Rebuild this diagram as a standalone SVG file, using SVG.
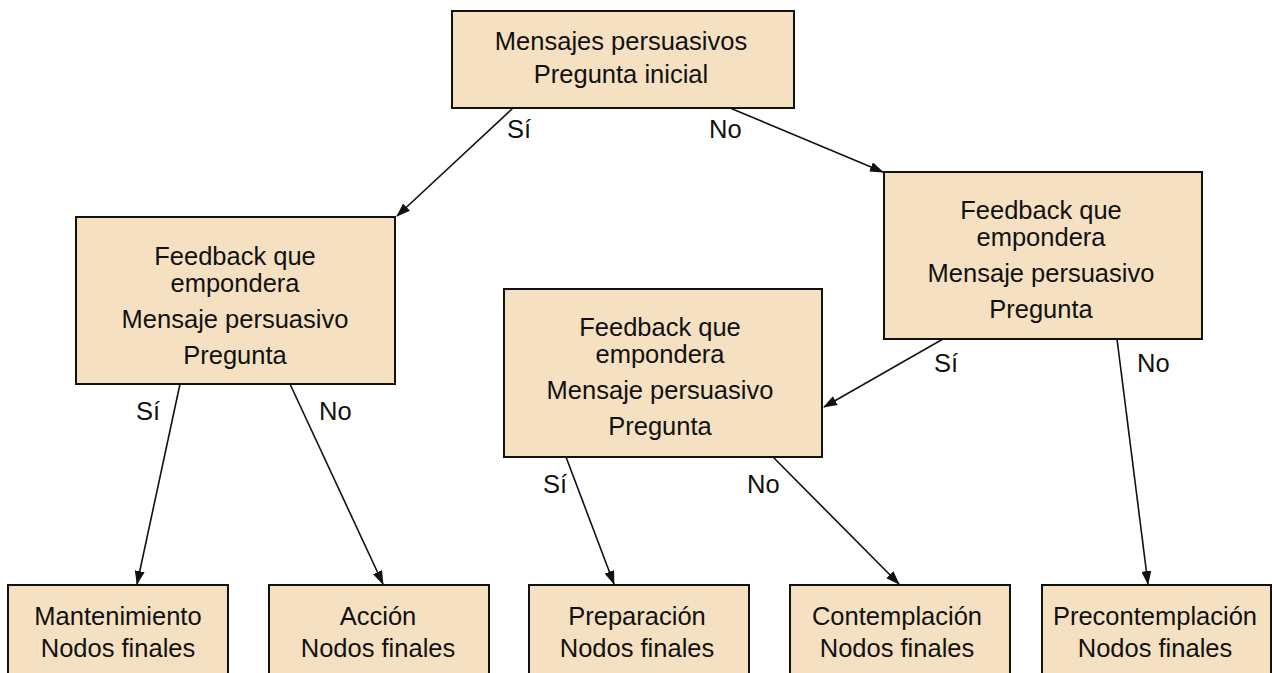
<svg xmlns="http://www.w3.org/2000/svg" width="1272" height="673" viewBox="0 0 1272 673">
<style>
.box{fill:#F5E1C1;stroke:#111;stroke-width:2}
text{font-family:"Liberation Sans",Arial,sans-serif;font-size:25.5px;fill:#111;text-anchor:middle}
.lbl{text-anchor:start}
.c{stroke:#111;stroke-width:1.6;fill:none;marker-end:url(#ah)}
</style>
<defs>
<marker id="ah" viewBox="0 0 14 10" refX="13" refY="5" markerWidth="14" markerHeight="10" markerUnits="userSpaceOnUse" orient="auto">
<path d="M0,0 L14,5 L0,10 z" fill="#111"/>
</marker>
</defs>
<rect width="1272" height="673" fill="#fff"/>
<g id="connectors">
<line class="c" x1="513" y1="108" x2="397" y2="216"/>
<line class="c" x1="730" y1="108" x2="883" y2="172"/>
<line class="c" x1="180" y1="384" x2="137" y2="584"/>
<line class="c" x1="290" y1="384" x2="383" y2="584"/>
<line class="c" x1="943" y1="339" x2="824" y2="407"/>
<line class="c" x1="1117" y1="339" x2="1148" y2="584"/>
<line class="c" x1="566" y1="457" x2="614" y2="584"/>
<line class="c" x1="773" y1="457" x2="899" y2="584"/>
<text class="lbl" x="507" y="138">Sí</text>
<text class="lbl" x="709" y="138">No</text>
<text class="lbl" x="136" y="420">Sí</text>
<text class="lbl" x="319" y="420">No</text>
<text class="lbl" x="543" y="493">Sí</text>
<text class="lbl" x="747" y="493">No</text>
<text class="lbl" x="934" y="372">Sí</text>
<text class="lbl" x="1137" y="372">No</text>
</g>
<g id="root">
<rect class="box" x="452" y="11" width="342" height="97"/>
<text x="621" y="50">Mensajes persuasivos</text>
<text x="621" y="83">Pregunta inicial</text>
</g>
<g id="left">
<rect class="box" x="76" y="217" width="319" height="167"/>
<text x="235" y="265">Feedback que</text>
<text x="235" y="292">empondera</text>
<text x="235" y="328">Mensaje persuasivo</text>
<text x="235" y="364">Pregunta</text>
</g>
<g id="middle">
<rect class="box" x="504" y="289" width="318" height="168"/>
<text x="660" y="336">Feedback que</text>
<text x="660" y="363">empondera</text>
<text x="660" y="399">Mensaje persuasivo</text>
<text x="660" y="435">Pregunta</text>
</g>
<g id="right">
<rect class="box" x="884" y="172" width="318" height="167"/>
<text x="1041" y="219">Feedback que</text>
<text x="1041" y="246">empondera</text>
<text x="1041" y="282">Mensaje persuasivo</text>
<text x="1041" y="318">Pregunta</text>
</g>
<g id="mantenimiento">
<rect class="box" x="8" y="585" width="220" height="100"/>
<text x="118" y="625">Mantenimiento</text>
<text x="118" y="657">Nodos finales</text>
</g>
<g id="accion">
<rect class="box" x="269" y="585" width="220" height="100"/>
<text x="378" y="625">Acción</text>
<text x="378" y="657">Nodos finales</text>
</g>
<g id="preparacion">
<rect class="box" x="529" y="585" width="220" height="100"/>
<text x="637" y="625">Preparación</text>
<text x="637" y="657">Nodos finales</text>
</g>
<g id="contemplacion">
<rect class="box" x="790" y="585" width="220" height="100"/>
<text x="897" y="625">Contemplación</text>
<text x="897" y="657">Nodos finales</text>
</g>
<g id="precontemplacion">
<rect class="box" x="1042" y="585" width="229" height="100"/>
<text x="1155" y="625">Precontemplación</text>
<text x="1155" y="657">Nodos finales</text>
</g>
</svg>
